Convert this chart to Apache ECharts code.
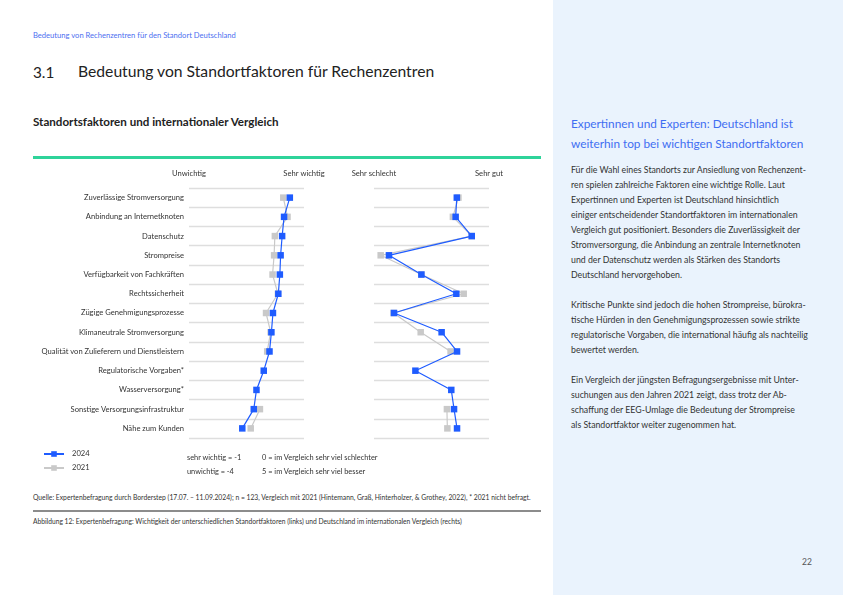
<!DOCTYPE html>
<html><head><meta charset="utf-8">
<script src="https://cdn.jsdelivr.net/npm/echarts@6/dist/echarts.min.js"></script>
<style>
html,body{margin:0;padding:0;width:843px;height:595px;background:#fff;overflow:hidden;font-family:Lato,"Noto Sans",sans-serif;color:#333;}
.abs{position:absolute;white-space:nowrap;}
#panel{position:absolute;left:553px;top:0;width:290px;height:595px;background:#eaf3fd;}
#chart{position:absolute;left:0;top:160px;width:553px;height:320px;}
</style></head><body>
<div id="panel"></div>
<div class="abs" style="left:33px;top:30px;font-size:7.6px;color:#4d6ff0;">Bedeutung von Rechenzentren für den Standort Deutschland</div>
<div class="abs" style="left:33px;top:63px;font-size:15.3px;color:#222;">3.1</div>
<div class="abs" style="left:78px;top:62px;font-size:15.7px;color:#222;">Bedeutung von Standortfaktoren für Rechenzentren</div>
<div class="abs" style="left:33px;top:115px;font-size:11.6px;font-weight:bold;color:#222;">Standortsfaktoren und internationaler Vergleich</div>
<div class="abs" style="left:33px;top:156px;width:508px;height:2.5px;background:#2fd39a;"></div>
<div id="chart"></div>
<div class="abs" style="left:187px;top:453px;font-size:7.4px;color:#333;">sehr wichtig = -1</div>
<div class="abs" style="left:187px;top:467px;font-size:7.4px;color:#333;">unwichtig = -4</div>
<div class="abs" style="left:262px;top:453px;font-size:7.4px;color:#333;">0 = im Vergleich sehr viel schlechter</div>
<div class="abs" style="left:262px;top:467px;font-size:7.4px;color:#333;">5 = im Vergleich sehr viel besser</div>
<div class="abs" style="left:33px;top:493px;font-size:6.75px;color:#333;">Quelle: Expertenbefragung durch Borderstep (17.07. – 11.09.2024); n = 123, Vergleich mit 2021 (Hintemann, Graß, Hinterholzer, &amp; Grothey, 2022), * 2021 nicht befragt.</div>
<div class="abs" style="left:33px;top:510px;width:508px;height:1.5px;background:#8c8c8c;"></div>
<div class="abs" style="left:33px;top:517px;font-size:6.7px;color:#333;">Abbildung 12: Expertenbefragung: Wichtigkeit der unterschiedlichen Standortfaktoren (links) und Deutschland im internationalen Vergleich (rechts)</div>
<div class="abs" style="left:571px;top:114px;font-size:11.8px;line-height:19.5px;color:#3f6ef2;">Expertinnen und Experten: Deutschland ist<br>weiterhin top bei wichtigen Standortfaktoren</div>
<div class="abs" style="left:571px;top:162px;font-size:8.75px;line-height:15px;color:#333;">Für die Wahl eines Standorts zur Ansiedlung von Rechenzent-<br>ren spielen zahlreiche Faktoren eine wichtige Rolle. Laut<br>Expertinnen und Experten ist Deutschland hinsichtlich<br>einiger entscheidender Standortfaktoren im internationalen<br>Vergleich gut positioniert. Besonders die Zuverlässigkeit der<br>Stromversorgung, die Anbindung an zentrale Internetknoten<br>und der Datenschutz werden als Stärken des Standorts<br>Deutschland hervorgehoben.<br><br>Kritische Punkte sind jedoch die hohen Strompreise, bürokra-<br>tische Hürden in den Genehmigungsprozessen sowie strikte<br>regulatorische Vorgaben, die international häufig als nachteilig<br>bewertet werden.<br><br>Ein Vergleich der jüngsten Befragungsergebnisse mit Unter-<br>suchungen aus den Jahren 2021 zeigt, dass trotz der Ab-<br>schaffung der EEG-Umlage die Bedeutung der Strompreise<br>als Standortfaktor weiter zugenommen hat.</div>
<div class="abs" style="left:802px;top:557px;font-size:8.5px;color:#555;">22</div>
<script>
const categories = ["Zuverlässige Stromversorgung","Anbindung an Internetknoten","Datenschutz","Strompreise","Verfügbarkeit von Fachkräften","Rechtssicherheit","Zügige Genehmigungsprozesse","Klimaneutrale Stromversorgung","Qualität von Zulieferern und Dienstleistern","Regulatorische Vorgaben*","Wasserversorgung*","Sonstige Versorgungsinfrastruktur","Nähe zum Kunden"];
const importance2024 = [-1.37,-1.52,-1.57,-1.61,-1.63,-1.67,-1.81,-1.85,-1.90,-2.05,-2.24,-2.31,-2.61];
const importance2021 = [-1.54,-1.43,-1.76,-1.78,-1.82,-1.68,-1.99,-1.87,-1.96,null,null,-2.15,-2.39];
const comparison2024 = [3.60,3.55,4.25,0.65,2.06,3.58,0.87,2.94,3.61,1.80,3.36,3.48,3.61];
const comparison2021 = [3.67,3.43,4.25,0.29,2.06,3.90,0.85,2.03,3.33,null,null,3.17,3.19];
const leftEnds = {"-4":"Unwichtig","-1":"Sehr wichtig"};
const rightEnds = {"0":"Sehr schlecht","5":"Sehr gut"};

const BLUE = '#1f5cff', GRAY = '#c9c9c9';
const chart = echarts.init(document.getElementById('chart'), null, {renderer:'canvas'});
function yAx(idx, showLabels){
  return {type:'category', gridIndex:idx, data:categories, inverse:true,
    axisLine:{show:false}, axisTick:{show:false},
    axisLabel:{show:showLabels, fontSize:7.6, color:'#333', fontFamily:'Lato', margin:5},
    splitLine:{show:true, lineStyle:{color:'#dedede', width:1.3}}};
}
function xAx(idx, min, max, names){
  return {type:'value', gridIndex:idx, min:min, max:max, position:'top',
    axisLine:{show:false}, axisTick:{show:false}, splitLine:{show:false},
    axisLabel:{show:true, customValues:[min,max], margin:10, fontSize:7.6, color:'#333', fontFamily:'Lato',
      formatter:v=>names[String(v)]||''}};
}
function ser(name, x, y, data, color, z){
  return {name:name, type:'line', xAxisIndex:x, yAxisIndex:y, data:data, symbol:'rect', symbolSize:6.5,
    connectNulls:false, z:z, itemStyle:{color:color}, lineStyle:{color:color, width:1.2}, emphasis:{disabled:true}};
}
chart.setOption({
  animation:false,
  textStyle:{fontFamily:'Lato'},
  grid:[{left:189, top:28, width:115, height:250}, {left:374, top:28, width:115, height:250}],
  xAxis:[xAx(0,-4,-1,leftEnds), xAx(1,0,5,rightEnds)],
  yAxis:[yAx(0,true), yAx(1,false)],
  legend:{data:['2024','2021'], orient:'vertical', left:43, top:290, padding:0, itemWidth:20, itemHeight:7, itemGap:6,
    textStyle:{fontSize:7.6, color:'#333', fontFamily:'Lato', padding:[0,0,0,3]}},
  series:[
    ser('2021',0,0,importance2021.map((v,i)=>[v,categories[i]]),GRAY,2),
    ser('2024',0,0,importance2024.map((v,i)=>[v,categories[i]]),BLUE,3),
    ser('2021',1,1,comparison2021.map((v,i)=>[v,categories[i]]),GRAY,2),
    ser('2024',1,1,comparison2024.map((v,i)=>[v,categories[i]]),BLUE,3)
  ]
});
</script>
</body></html>
